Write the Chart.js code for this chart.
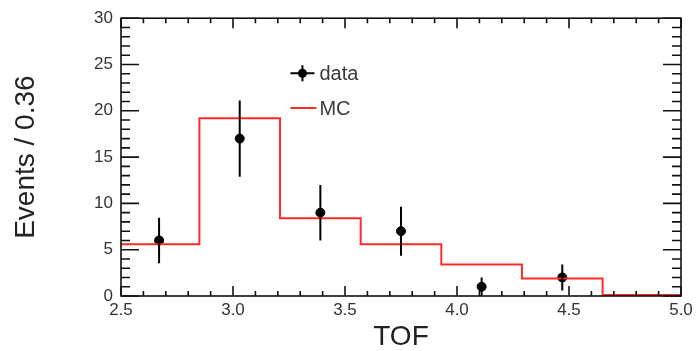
<!DOCTYPE html>
<html>
<head>
<meta charset="utf-8">
<script src="https://cdn.jsdelivr.net/npm/chart.js@4"></script>
<style>
  html, body { margin: 0; padding: 0; background: #fff; }
  #wrap { width: 697px; height: 351px; position: relative; }
</style>
</head>
<body>
<div id="wrap"><canvas id="chart"></canvas></div>
<script>
// histogram (MC), bin width 0.36
const binEdges = [2.49, 2.85, 3.21, 3.57, 3.93, 4.29, 4.65, 5.01];
const mcCounts = [5.6, 19.2, 8.4, 5.6, 3.4, 1.9, 0.1];

// data points with errors
const dataX = [2.67, 3.03, 3.39, 3.75, 4.11, 4.47];
const dataY = [6, 17, 9, 7, 1, 2];
const dataErr = [2.45, 4.12, 3.0, 2.65, 1.0, 1.41];

const xTicks = [2.5, 3.0, 3.5, 4.0, 4.5, 5.0];
const yTicks = [0, 5, 10, 15, 20, 25, 30];

const legendItems = ["data", "MC"];

const mcPoints = binEdges.map((e, i) => ({ x: e, y: mcCounts[Math.min(i, mcCounts.length - 1)] }));
const dataPoints = dataX.map((x, i) => ({ x, y: dataY[i] }));

const errorBars = {
  id: "errorBars",
  afterDatasetsDraw(chart) {
    const { ctx, scales: { x, y } } = chart;
    ctx.save();
    ctx.strokeStyle = "#000";
    ctx.lineWidth = 2;
    ctx.beginPath();
    dataX.forEach((v, i) => {
      const px = x.getPixelForValue(v);
      ctx.moveTo(px, y.getPixelForValue(Math.max(0, dataY[i] - dataErr[i])));
      ctx.lineTo(px, y.getPixelForValue(dataY[i] + dataErr[i]));
    });
    ctx.stroke();
    ctx.restore();
  }
};

const frameTicks = {
  id: "frameTicks",
  afterDatasetsDraw(chart) {
    const { ctx, chartArea: a, scales: { x, y } } = chart;
    ctx.save();
    ctx.strokeStyle = "#111";
    ctx.lineWidth = 1.6;
    ctx.strokeRect(a.left, a.top, a.right - a.left, a.bottom - a.top);
    ctx.beginPath();
    for (let i = 0; i <= 25; i++) {
      const px = x.getPixelForValue(2.5 + i * 0.1);
      const len = i % 5 === 0 ? 10 : 5;
      ctx.moveTo(px, a.bottom); ctx.lineTo(px, a.bottom - len);
      ctx.moveTo(px, a.top); ctx.lineTo(px, a.top + len);
    }
    for (let v = 0; v <= 30; v++) {
      const py = y.getPixelForValue(v);
      const len = v % 5 === 0 ? 18 : 9;
      ctx.moveTo(a.left, py); ctx.lineTo(a.left + len, py);
      ctx.moveTo(a.right, py); ctx.lineTo(a.right - len, py);
    }
    ctx.stroke();
    ctx.restore();
  }
};

// legend drawn inside the frame
const innerLegend = {
  id: "innerLegend",
  afterDraw(chart) {
    const { ctx, scales: { x, y } } = chart;
    ctx.save();
    const mx = x.getPixelForValue(3.31);
    const y1 = y.getPixelForValue(24.05);
    const y2 = y.getPixelForValue(20.3);
    ctx.strokeStyle = "#000";
    ctx.lineWidth = 2;
    ctx.beginPath();
    ctx.moveTo(mx - 12, y1); ctx.lineTo(mx + 12, y1);
    ctx.moveTo(mx, y1 - 8); ctx.lineTo(mx, y1 + 8);
    ctx.stroke();
    ctx.fillStyle = "#000";
    ctx.beginPath();
    ctx.arc(mx, y1, 4.5, 0, Math.PI * 2);
    ctx.fill();
    ctx.strokeStyle = "#ff2a2a";
    ctx.beginPath();
    ctx.moveTo(mx - 12, y2); ctx.lineTo(mx + 14, y2);
    ctx.stroke();
    ctx.fillStyle = "#3a3a3a";
    ctx.font = "20px 'Liberation Sans', Arial, sans-serif";
    ctx.textBaseline = "middle";
    ctx.fillText(legendItems[0], mx + 17, y1 + 1);
    ctx.fillText(legendItems[1], mx + 17, y2 + 1);
    ctx.restore();
  }
};

const font = "'Liberation Sans', Arial, sans-serif";

new Chart(document.getElementById("chart"), {
  data: {
    datasets: [
      {
        type: "line",
        label: "MC",
        data: mcPoints,
        stepped: true,
        borderColor: "#ff2a2a",
        borderWidth: 2,
        pointRadius: 0,
        fill: false
      },
      {
        type: "scatter",
        label: "data",
        data: dataPoints,
        backgroundColor: "#000",
        borderColor: "#000",
        pointRadius: 4.5
      }
    ]
  },
  options: {
    responsive: true,
    maintainAspectRatio: false,
    animation: false,
    layout: { padding: { left: 0, right: 16, top: 16, bottom: 0 } },
    plugins: {
      legend: { display: false },
      tooltip: { enabled: false }
    },
    scales: {
      x: {
        type: "linear",
        min: 2.5,
        max: 5.0,
        afterBuildTicks: s => { s.ticks = xTicks.map(v => ({ value: v })); },
        afterFit: s => { s.height = 55; },
        grid: { display: false, drawTicks: false },
        border: { display: false },
        ticks: {
          padding: 4,
          color: "#333",
          font: { family: font, size: 17 },
          callback: v => Number(v).toFixed(1)
        },
        title: {
          display: true,
          text: "TOF",
          color: "#222",
          font: { family: font, size: 28, lineHeight: 1 },
          padding: { top: 0, bottom: 0 }
        }
      },
      y: {
        min: 0,
        max: 30,
        afterBuildTicks: s => { s.ticks = yTicks.map(v => ({ value: v })); },
        afterFit: s => { s.width = 121; },
        grid: { display: false, drawTicks: false },
        border: { display: false },
        ticks: {
          padding: 8,
          color: "#333",
          font: { family: font, size: 17 }
        },
        title: {
          display: true,
          text: "Events / 0.36",
          color: "#222",
          font: { family: font, size: 28, lineHeight: 1 },
          padding: { top: 12, bottom: 0 }
        }
      }
    }
  },
  plugins: [errorBars, frameTicks, innerLegend]
});
</script>
</body>
</html>
